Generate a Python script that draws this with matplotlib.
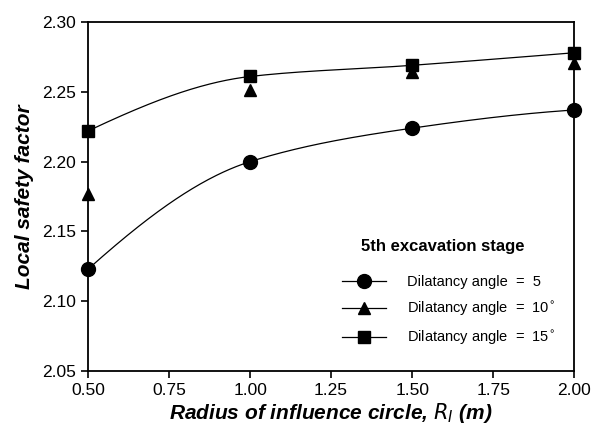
import numpy as np
import matplotlib.pyplot as plt
from matplotlib.lines import Line2D

plt.rcParams['font.family'] = ['Liberation Sans', 'DejaVu Sans']

# radius of influence circle (m)
radius = [0.5, 1.0, 1.5, 2.0]
# local safety factor for each dilatancy angle
fs_5 = [2.123, 2.200, 2.224, 2.237]
fs_10 = [2.177, 2.251, 2.264, 2.271]
fs_15 = [2.222, 2.261, 2.269, 2.278]

xticks = [0.50, 0.75, 1.00, 1.25, 1.50, 1.75, 2.00]
yticks = [2.05, 2.10, 2.15, 2.20, 2.25, 2.30]


def pchip(x, y, xs):
    # monotone cubic Hermite curve through the points (only for drawing the line)
    x = np.asarray(x, float)
    y = np.asarray(y, float)
    h = np.diff(x)
    d = np.diff(y) / h
    n = len(x)
    m = np.zeros(n)
    for i in range(1, n - 1):
        if d[i - 1] * d[i] > 0:
            w1 = 2 * h[i] + h[i - 1]
            w2 = h[i] + 2 * h[i - 1]
            m[i] = (w1 + w2) / (w1 / d[i - 1] + w2 / d[i])
    m[0] = ((2 * h[0] + h[1]) * d[0] - h[0] * d[1]) / (h[0] + h[1])
    m[-1] = ((2 * h[-1] + h[-2]) * d[-1] - h[-1] * d[-2]) / (h[-1] + h[-2])
    idx = np.clip(np.searchsorted(x, xs) - 1, 0, n - 2)
    t = (xs - x[idx]) / h[idx]
    h00 = 2 * t**3 - 3 * t**2 + 1
    h10 = t**3 - 2 * t**2 + t
    h01 = -2 * t**3 + 3 * t**2
    h11 = t**3 - t**2
    return (h00 * y[idx] + h10 * h[idx] * m[idx]
            + h01 * y[idx + 1] + h11 * h[idx] * m[idx + 1])


fig = plt.figure(figsize=(5.95, 4.32), dpi=100)
ax = fig.add_axes([0.148, 0.141, 0.817, 0.808])

xs = np.linspace(radius[0], radius[-1], 300)
for ys in (fs_5, fs_15):
    ax.plot(xs, pchip(radius, ys, xs), color='black', lw=0.9)

ax.plot(radius, fs_5, 'o', color='black', ms=10, clip_on=False, zorder=3)
ax.plot(radius, fs_10, '^', color='black', ms=8.5, clip_on=False, zorder=3)
ax.plot(radius, fs_15, 's', color='black', ms=9, clip_on=False, zorder=4)

ax.set_xlim(0.5, 2.0)
ax.set_ylim(2.05, 2.30)
ax.set_xticks(xticks)
ax.set_xticklabels([f'{v:.2f}' for v in xticks])
ax.set_yticks(yticks)
ax.set_yticklabels([f'{v:.2f}' for v in yticks])
ax.tick_params(direction='out', length=5, width=1.2, labelsize=12.5)
for s in ax.spines.values():
    s.set_linewidth(1.3)

ax.set_xlabel('Radius of influence circle, $\\mathit{R_I}$ (m)', fontsize=15,
              fontweight='bold', style='italic', labelpad=2)
ax.set_ylabel('Local safety factor', fontsize=15, fontweight='bold',
              style='italic', labelpad=6)

ax.text(0.730, 0.358, '5th excavation stage', transform=ax.transAxes,
        ha='center', va='center', fontsize=12, fontweight='bold')

handles = [
    Line2D([], [], color='black', lw=0.9, marker='o', ms=10),
    Line2D([], [], color='black', lw=0.9, marker='^', ms=8.5),
    Line2D([], [], color='black', lw=0.9, marker='s', ms=9),
]
labels = ['Dilatancy angle  =  5',
          'Dilatancy angle  =  10$^{\\circ}$',
          'Dilatancy angle  =  15$^{\\circ}$']
ax.legend(handles, labels, loc='center left', bbox_to_anchor=(0.523, 0.172),
          frameon=False, fontsize=10.5, handlelength=3.0, handletextpad=1.45,
          labelspacing=0.75, borderpad=0, borderaxespad=0)

fig.savefig('out.png', dpi=100)
